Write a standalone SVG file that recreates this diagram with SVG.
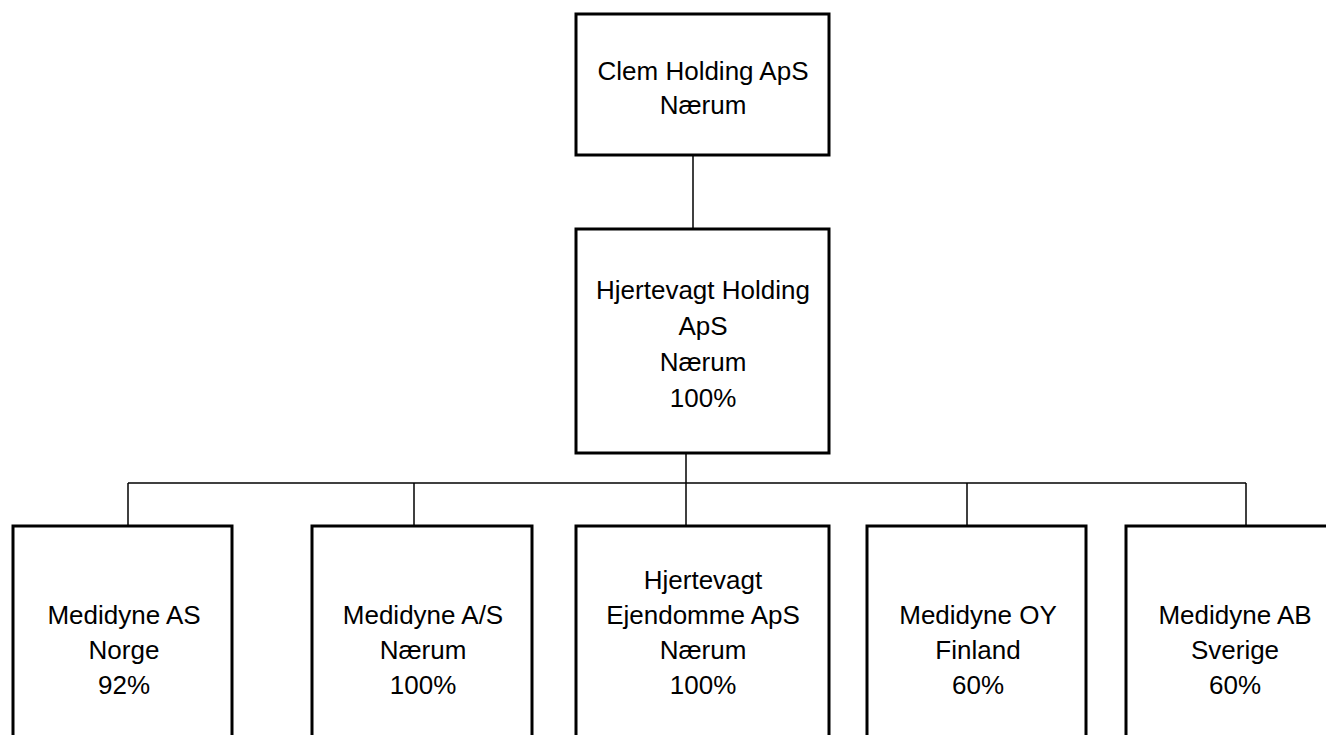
<svg xmlns="http://www.w3.org/2000/svg" width="1326" height="735" viewBox="0 0 1326 735">
<style>
.box{fill:#ffffff;stroke:#000000;stroke-width:3}
.conn{stroke:#000000;stroke-width:1.5;fill:none}
text{font-family:"Liberation Sans",Arial,sans-serif;font-size:26px;fill:#000000;text-anchor:middle}
</style>
<rect x="0" y="0" width="1326" height="735" fill="#ffffff"/>
<g id="connectors">
<line class="conn" x1="693" y1="155" x2="693" y2="229"/>
<line class="conn" x1="686" y1="453" x2="686" y2="483"/>
<line class="conn" x1="128" y1="483" x2="1246" y2="483"/>
<line class="conn" x1="128" y1="483" x2="128" y2="526"/>
<line class="conn" x1="414" y1="483" x2="414" y2="526"/>
<line class="conn" x1="686" y1="483" x2="686" y2="526"/>
<line class="conn" x1="967" y1="483" x2="967" y2="526"/>
<line class="conn" x1="1246" y1="483" x2="1246" y2="526"/>
</g>
<g id="clem-holding">
<rect class="box" x="576" y="14" width="253" height="141"/>
<text x="703" y="80">Clem Holding ApS</text>
<text x="703" y="114">Nærum</text>
</g>
<g id="hjertevagt-holding">
<rect class="box" x="576" y="229" width="253" height="224"/>
<text x="703" y="299">Hjertevagt Holding</text>
<text x="703" y="335">ApS</text>
<text x="703" y="371">Nærum</text>
<text x="703" y="407">100%</text>
</g>
<g id="medidyne-as">
<rect class="box" x="13" y="526" width="219" height="240"/>
<text x="124" y="624">Medidyne AS</text>
<text x="124" y="659">Norge</text>
<text x="124" y="694">92%</text>
</g>
<g id="medidyne-a-s">
<rect class="box" x="312" y="526" width="220" height="240"/>
<text x="423" y="624">Medidyne A/S</text>
<text x="423" y="659">Nærum</text>
<text x="423" y="694">100%</text>
</g>
<g id="hjertevagt-ejendomme">
<rect class="box" x="576" y="526" width="253" height="240"/>
<text x="703" y="589">Hjertevagt</text>
<text x="703" y="624">Ejendomme ApS</text>
<text x="703" y="659">Nærum</text>
<text x="703" y="694">100%</text>
</g>
<g id="medidyne-oy">
<rect class="box" x="867" y="526" width="219" height="240"/>
<text x="978" y="624">Medidyne OY</text>
<text x="978" y="659">Finland</text>
<text x="978" y="694">60%</text>
</g>
<g id="medidyne-ab">
<rect class="box" x="1126" y="526" width="218" height="240"/>
<text x="1235" y="624">Medidyne AB</text>
<text x="1235" y="659">Sverige</text>
<text x="1235" y="694">60%</text>
</g>
</svg>
